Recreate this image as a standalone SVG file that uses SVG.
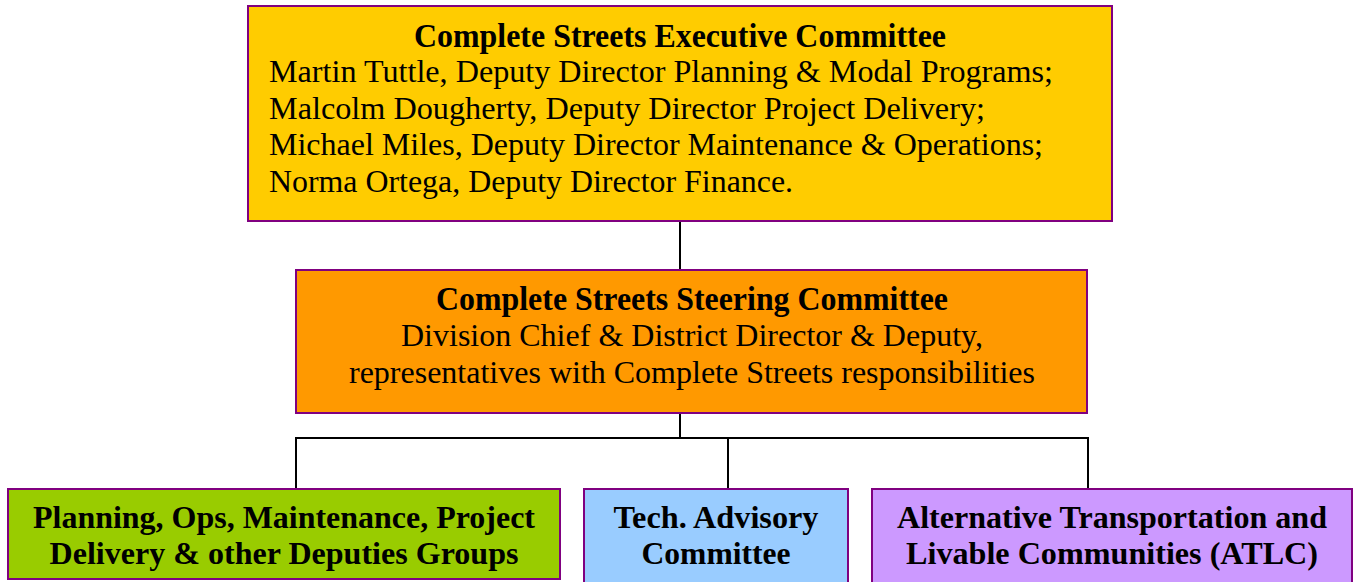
<svg xmlns="http://www.w3.org/2000/svg" width="1353" height="582" viewBox="0 0 1353 582">
<style>
.box{stroke:#800080;stroke-width:2}
.t{font-family:"Liberation Serif","Times New Roman",serif;fill:#000;font-size:31px}
.b{font-weight:bold;text-anchor:middle}
.h{font-size:34px}
.c{text-anchor:middle}
.ln{stroke:#000;stroke-width:2;fill:none}
</style>
<rect width="1353" height="582" fill="#fff"/>
<g id="connectors">
<line class="ln" x1="680" y1="221" x2="680" y2="270"/>
<line class="ln" x1="680" y1="413" x2="680" y2="438"/>
<line class="ln" x1="295" y1="438" x2="1089" y2="438"/>
<line class="ln" x1="296" y1="438" x2="296" y2="489"/>
<line class="ln" x1="728" y1="438" x2="728" y2="489"/>
<line class="ln" x1="1088" y1="438" x2="1088" y2="489"/>
</g>
<g id="exec">
<rect class="box" x="248" y="6" width="864" height="215" fill="#FFCC00"/>
<text class="t b h" x="680" y="47" textLength="532" lengthAdjust="spacingAndGlyphs">Complete Streets Executive Committee</text>
<text class="t" x="269" y="82" textLength="784" lengthAdjust="spacingAndGlyphs">Martin Tuttle, Deputy Director Planning &amp; Modal Programs;</text>
<text class="t" x="269" y="119" textLength="716" lengthAdjust="spacingAndGlyphs">Malcolm Dougherty, Deputy Director Project Delivery;</text>
<text class="t" x="269" y="155" textLength="774" lengthAdjust="spacingAndGlyphs">Michael Miles, Deputy Director Maintenance &amp; Operations;</text>
<text class="t" x="269" y="192" textLength="524" lengthAdjust="spacingAndGlyphs">Norma Ortega, Deputy Director Finance.</text>
</g>
<g id="steering">
<rect class="box" x="296" y="270" width="791" height="143" fill="#FF9900"/>
<text class="t b h" x="692" y="310" textLength="512" lengthAdjust="spacingAndGlyphs">Complete Streets Steering Committee</text>
<text class="t c" x="692" y="346" textLength="582" lengthAdjust="spacingAndGlyphs">Division Chief &amp; District Director &amp; Deputy,</text>
<text class="t c" x="692" y="383" textLength="686" lengthAdjust="spacingAndGlyphs">representatives with Complete Streets responsibilities</text>
</g>
<g id="deputies">
<rect class="box" x="8" y="489" width="552" height="90" fill="#99CC00"/>
<text class="t b" x="284" y="528" textLength="502" lengthAdjust="spacingAndGlyphs">Planning, Ops, Maintenance, Project</text>
<text class="t b" x="284" y="564" textLength="469" lengthAdjust="spacingAndGlyphs">Delivery &amp; other Deputies Groups</text>
</g>
<g id="tac">
<rect class="box" x="584" y="489" width="264" height="100" fill="#99CCFF"/>
<text class="t b" x="716" y="528" textLength="205" lengthAdjust="spacingAndGlyphs">Tech. Advisory</text>
<text class="t b" x="716" y="564" textLength="149" lengthAdjust="spacingAndGlyphs">Committee</text>
</g>
<g id="atlc">
<rect class="box" x="872" y="489" width="480" height="100" fill="#CC99FF"/>
<text class="t b" x="1112" y="528" textLength="430" lengthAdjust="spacingAndGlyphs">Alternative Transportation and</text>
<text class="t b" x="1112" y="564" textLength="412" lengthAdjust="spacingAndGlyphs">Livable Communities (ATLC)</text>
</g>
</svg>
